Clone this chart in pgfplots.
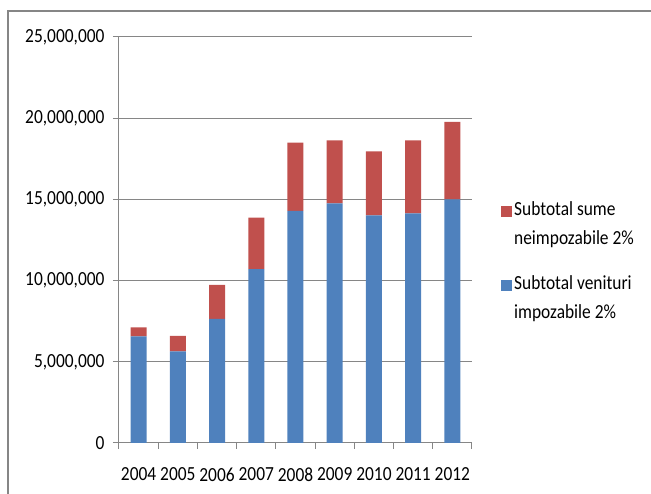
\documentclass[border=0pt]{standalone}
\usepackage{fontspec}
\setmainfont{Carlito}[FakeStretch=0.87]
\usepackage{pgfplots}
\pgfplotsset{compat=1.18}
\definecolor{barblue}{HTML}{4F81BD}
\definecolor{barred}{HTML}{C0504D}
\definecolor{gridgray}{HTML}{868686}
\begin{document}
\begin{tikzpicture}
\begin{axis}[
  name=ax,
  scale only axis, width=353pt, height=406pt,
  ybar stacked, bar width=16pt,
  xmin=0.5, xmax=9.5, ymin=0, ymax=25000000,
  enlargelimits=false,
  xtick={1,...,9},
  xticklabels={2004,2005,2006,2007,2008,2009,2010,2011,2012},
  minor xtick={0.5,1.5,...,9.5},
  ytick={0,5000000,10000000,15000000,20000000,25000000},
  axis x line*=bottom, axis y line*=left,
  axis line style={gridgray, line width=1pt, -},
  ymajorgrids, major grid style={gridgray, line width=1pt},
  tick align=outside, major tick length=6pt, minor tick length=6pt,
  tick style={gridgray, line width=1pt},
  major x tick style={draw=none},
  scaled y ticks=false,
  /pgf/number format/fixed,
  /pgf/number format/1000 sep={,},
  /pgf/number format/assume math mode=true,
  tick label style={font=\fontsize{20}{24}\selectfont, text=black},
  yticklabel style={xshift=-5pt},
  xticklabel style={yshift=-15pt},
  legend style={at={(1,1)}, anchor=north west, xshift=26pt, yshift=-155pt,
    draw=none, fill=none, font=\fontsize{20}{27}\selectfont,
    cells={anchor=west}, nodes={text depth=}, row sep=14pt},
  legend image code/.code={\fill[#1] (0pt,7pt) rectangle (11pt,18pt);},
  reverse legend,
]
\addplot[fill=barblue, draw=none] coordinates {
  (1,6560000) (2,5640000) (3,7640000) (4,10710000) (5,14290000)
  (6,14760000) (7,14020000) (8,14140000) (9,15000000)};
\addlegendentry{\begin{tabular}{@{}l@{}}Subtotal venituri\\[2pt]impozabile 2\%\end{tabular}}
\addplot[fill=barred, draw=none] coordinates {
  (1,560000) (2,950000) (3,2090000) (4,3160000) (5,4200000)
  (6,3880000) (7,3940000) (8,4500000) (9,4770000)};
\addlegendentry{\begin{tabular}{@{}l@{}}Subtotal sume\\[2pt]neimpozabile 2\%\end{tabular}}
\end{axis}
\useasboundingbox ([xshift=-119pt,yshift=-51pt]ax.south west) rectangle ++(651pt,494pt);
\draw[gridgray, line width=2pt] ([xshift=-111pt,yshift=-60pt]ax.south west) |- ([xshift=540pt,yshift=432pt]ax.south west);
\end{tikzpicture}
\end{document}
